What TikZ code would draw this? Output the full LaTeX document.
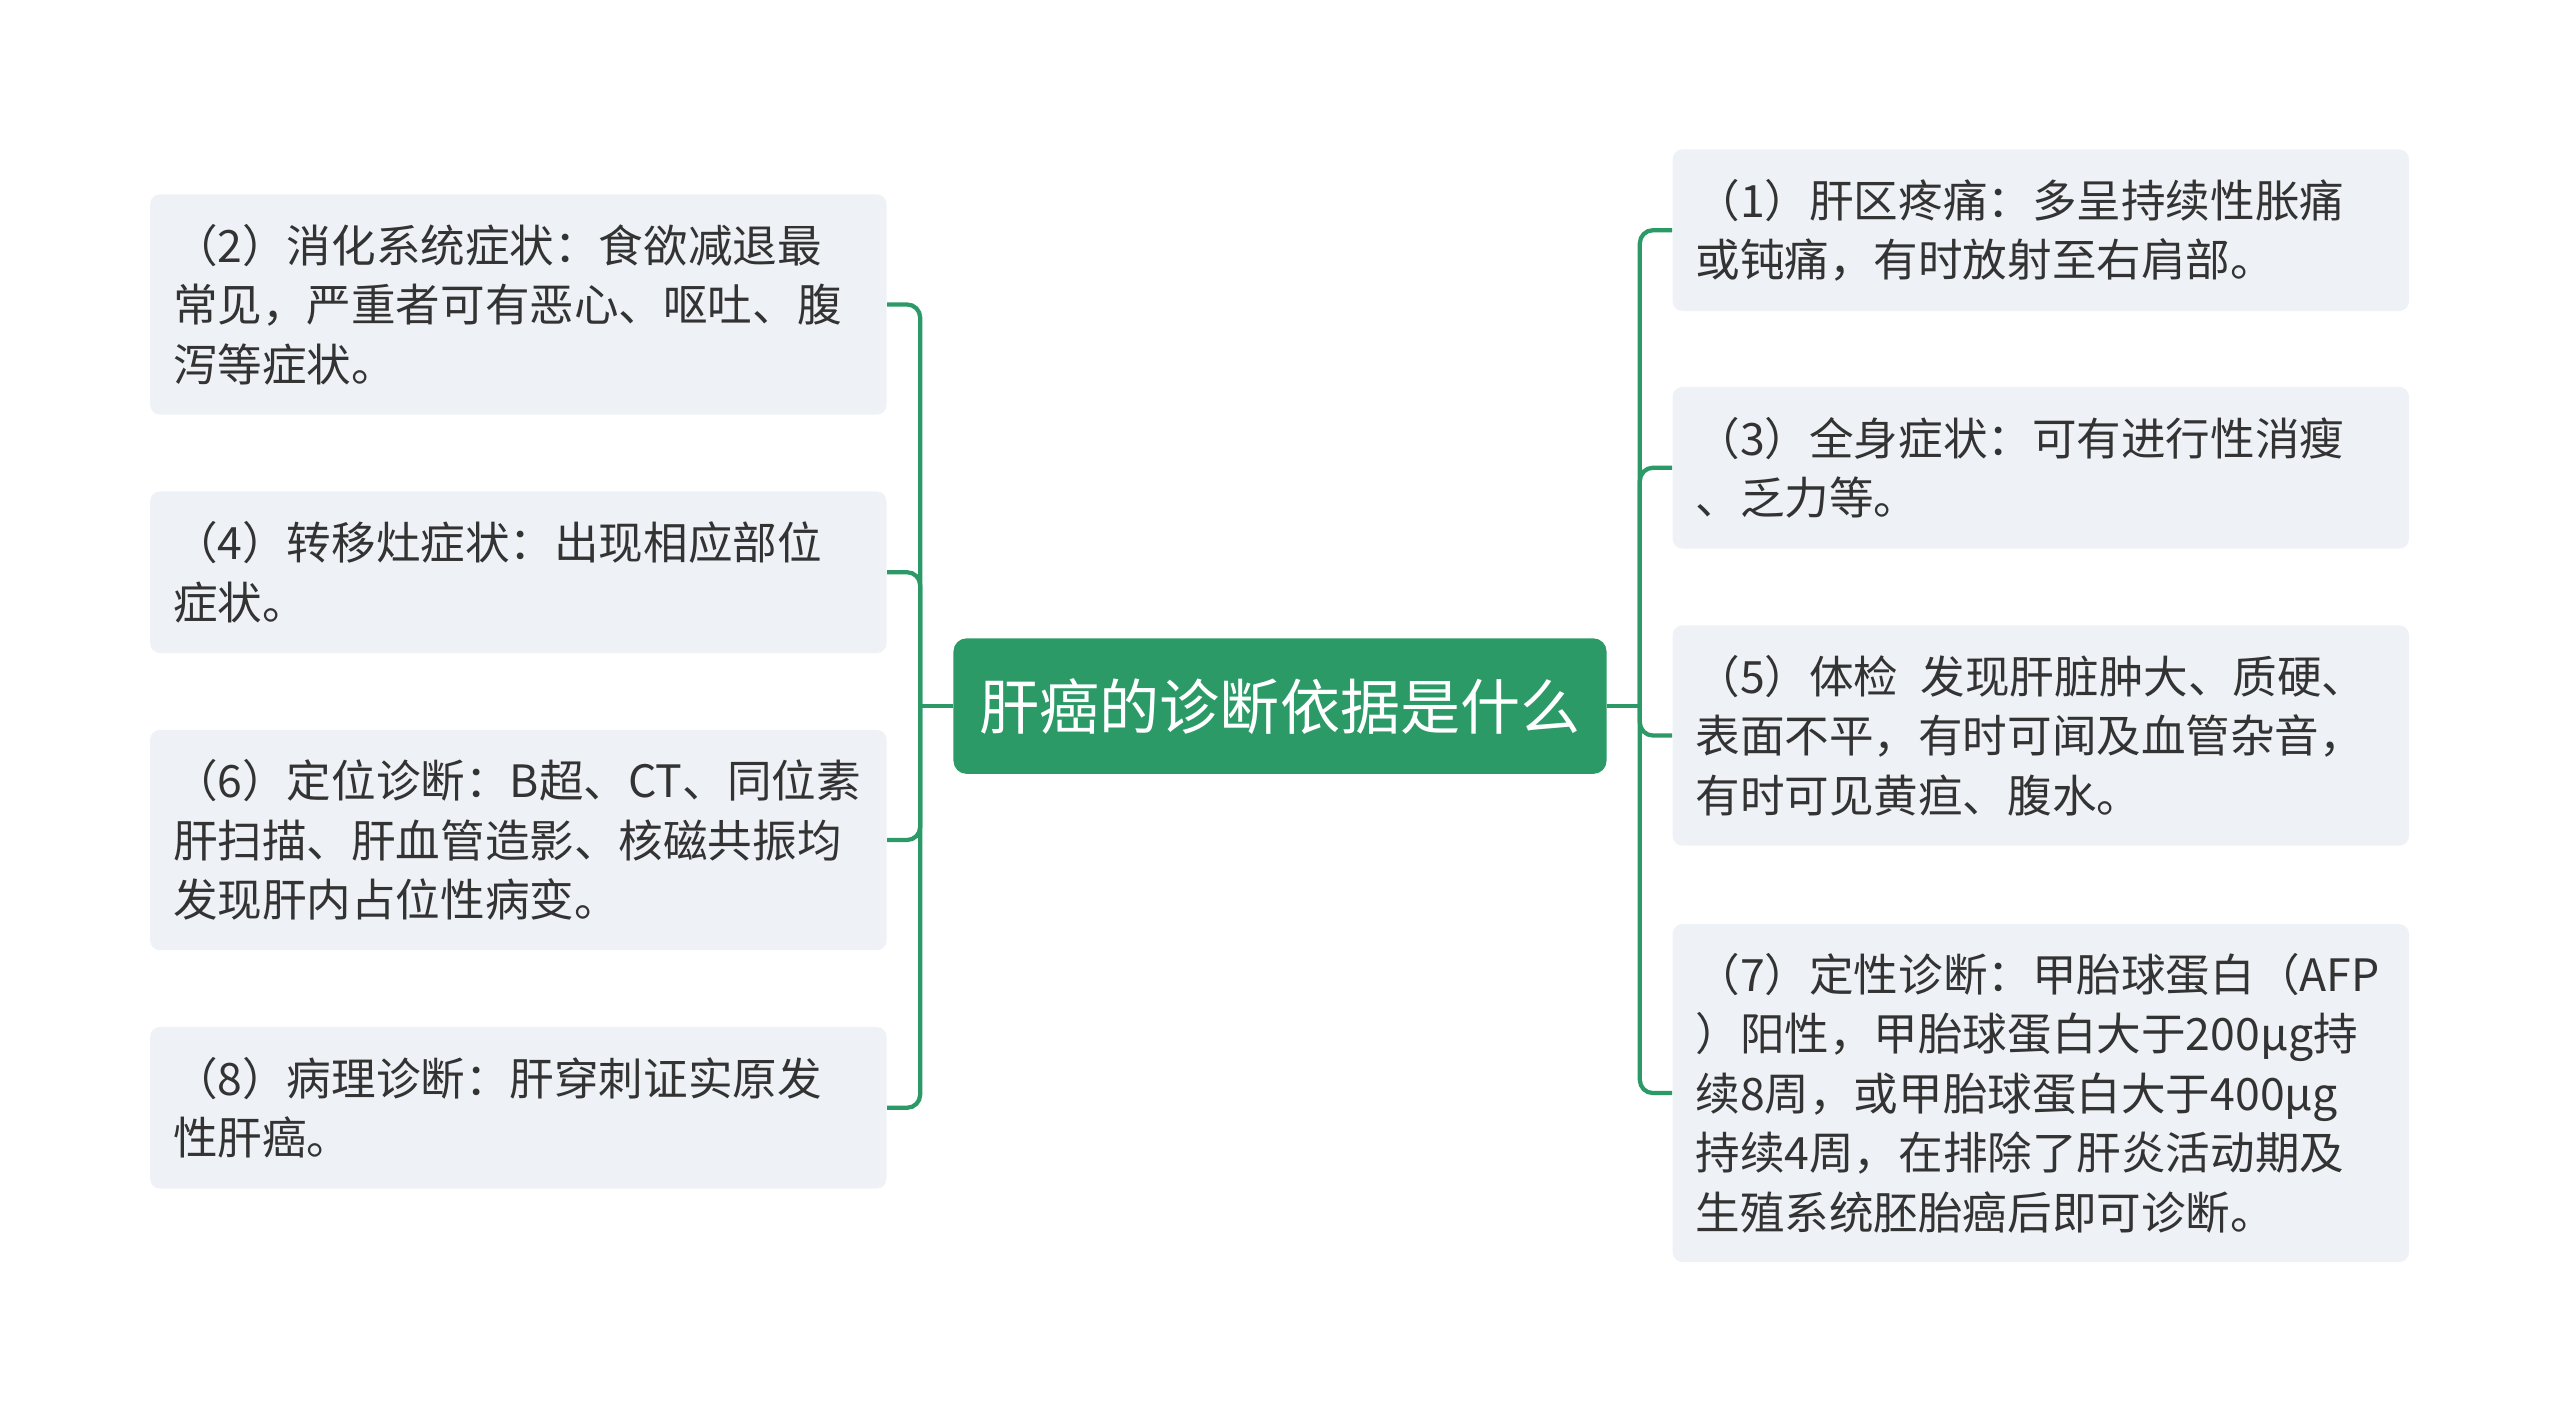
\documentclass[tikz,border=0pt]{standalone}
\usepackage{fontspec}
\setmainfont{Noto Sans CJK SC}
\usepackage{tikz}
\usetikzlibrary{positioning,calc}
\definecolor{ShutuGreen}{HTML}{2B9A66}
\definecolor{ShutuGray}{HTML}{EEF1F5}
\definecolor{ShutuText}{HTML}{333333}

\begin{document}
\begin{tikzpicture}[x=0.5pt, y=-0.5pt,
  leaf/.style={fill=ShutuGray, rounded corners=3pt, text width=211.5pt, inner xsep=7pt, inner ysep=0pt,
    align=left, text=ShutuText, font=\fontsize{13.65pt}{18.25pt}\selectfont},
  topic/.style={fill=ShutuGreen, rounded corners=4pt, minimum width=200pt, minimum height=41.5pt,
    inner sep=0pt, text=white, font=\fontsize{18.4pt}{22pt}\selectfont},
  branch/.style={draw=ShutuGreen, line width=1.3pt}]
\useasboundingbox (0,0) rectangle (1568,866);

% Central topic
\node[topic] (root) at (784,432.5) {肝癌的诊断依据是什么};

% Left leaves
\foreach \name/\x/\y/\h/\txt in {
  n2/317.5/186.5/67.5/{（2）消化系统症状：食欲减退最\\常见，严重者可有恶心、呕吐、腹\\泻等症状。},
  n4/317.5/350.5/49.5/{（4）转移灶症状：出现相应部位\\症状。},
  n6/317.5/514.5/67.5/{（6）定位诊断：B超、CT、同位素\\肝扫描、肝血管造影、核磁共振均\\发现肝内占位性病变。},
  n8/317.5/678.5/49.5/{（8）病理诊断：肝穿刺证实原发\\性肝癌。}}
{
  \node[leaf, minimum height=\h pt] (\name) at (\x,\y) {\txt};
}

% Right leaves
\foreach \name/\x/\y/\h/\txt in {
  n1/1250/141/49.5/{（1）肝区疼痛：多呈持续性胀痛\\或钝痛，有时放射至右肩部。},
  n3/1250/286.5/49.5/{（3）全身症状：可有进行性消瘦\\、乏力等。},
  n5/1250/450.5/67.5/{（5）体检\enspace 发现肝脏肿大、质硬、\\表面不平，有时可闻及血管杂音，\\有时可见黄疸、腹水。},
  n7/1250/669.5/103.5/{（7）定性诊断：甲胎球蛋白（AFP\\）阳性，甲胎球蛋白大于200µg持\\续8周，或甲胎球蛋白大于400µg\\持续4周，在排除了肝炎活动期及\\生殖系统胚胎癌后即可诊断。}}
{
  \node[leaf, minimum height=\h pt] (\name) at (\x,\y) {\txt};
}

% Connectors
\coordinate (lj) at ($(root.west)+(-20,0)$);
\coordinate (rj) at ($(root.east)+(20,0)$);
\draw[branch] (root.west) -- (lj);
\draw[branch] (root.east) -- (rj);
\foreach \n in {n2,n4,n6,n8}
  \draw[branch, rounded corners=4pt] (lj) |- (\n.east);
\foreach \n in {n1,n3,n5,n7}
  \draw[branch, rounded corners=4pt] (rj) |- (\n.west);
\end{tikzpicture}
\end{document}
